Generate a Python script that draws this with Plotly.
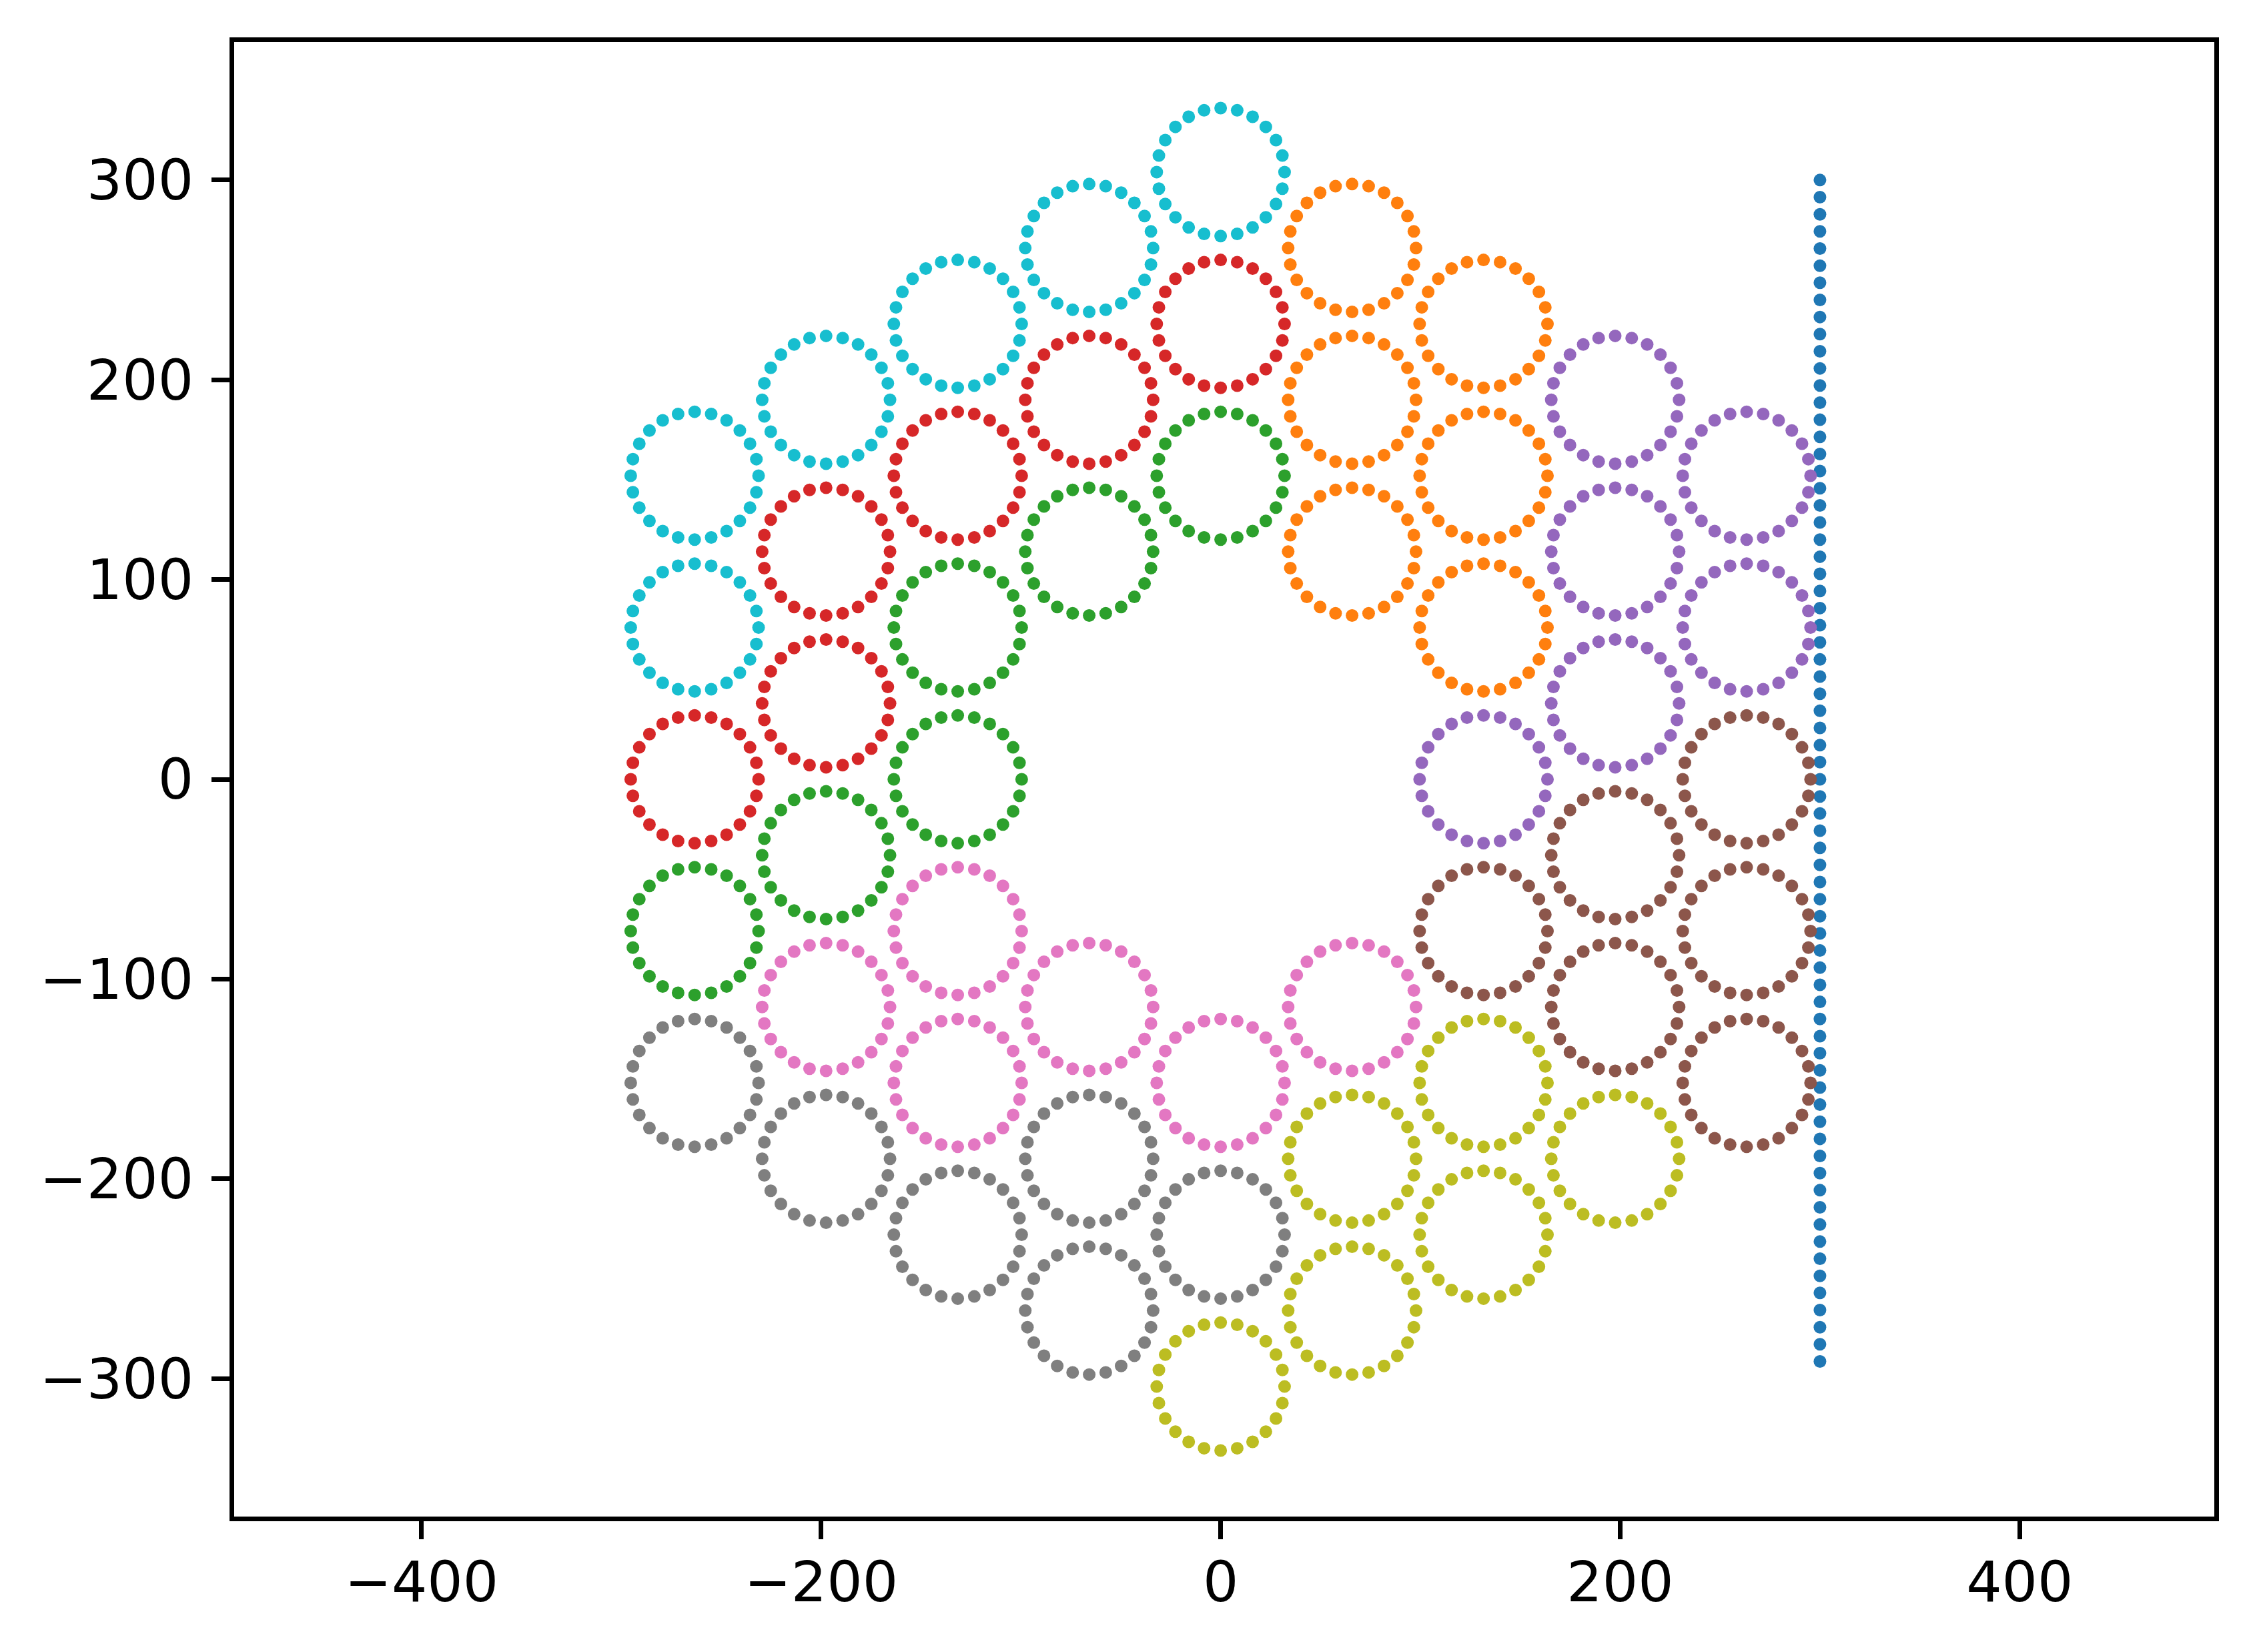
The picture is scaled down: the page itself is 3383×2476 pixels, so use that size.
import math
import plotly.graph_objects as go

# ---- data ----
line_x = 300
line_y = [300, 291.43, 282.86, 274.29, 265.71, 257.14, 248.57,
          240, 231.43, 222.86, 214.29, 205.71, 197.14, 188.57,
          180, 171.43, 162.86, 154.29, 145.71, 137.14, 128.57,
          120, 111.43, 102.86, 94.29, 85.71, 77.14, 68.57,
          60, 51.43, 42.86, 34.29, 25.71, 17.14, 8.57,
          0, -8.57, -17.14, -25.71, -34.29, -42.86, -51.43,
          -60, -68.57, -77.14, -85.71, -94.29, -102.86, -111.43,
          -120, -128.57, -137.14, -145.71, -154.29, -162.86, -171.43,
          -180, -188.57, -197.14, -205.71, -214.29, -222.86, -231.43,
          -240, -248.57, -257.14, -265.71, -274.29, -282.86, -291.43]

orange_cx = [65.8, 65.8, 65.8, 131.6, 131.6, 131.6]
orange_cy = [266, 190, 114, 228, 152, 76]
green_cx = [0, -65.8, -131.6, -131.6, -197.5, -263.3]
green_cy = [152, 114, 76, 0, -38, -76]
red_cx = [0, -65.8, -131.6, -197.5, -197.5, -263.3]
red_cy = [228, 190, 152, 114, 38, 0]
purple_cx = [131.6, 197.5, 197.5, 197.5, 263.3, 263.3]
purple_cy = [0, 190, 114, 38, 152, 76]
brown_cx = [131.6, 197.5, 197.5, 263.3, 263.3, 263.3]
brown_cy = [-76, -38, -114, 0, -76, -152]
pink_cx = [0, -65.8, 65.8, -131.6, -131.6, -197.5]
pink_cy = [-152, -114, -114, -76, -152, -114]
gray_cx = [0, -65.8, -65.8, -131.6, -197.5, -263.3]
gray_cy = [-228, -190, -266, -228, -190, -152]
olive_cx = [0, 65.8, 65.8, 131.6, 131.6, 197.5]
olive_cy = [-304, -190, -266, -152, -228, -190]
cyan_cx = [0, -65.8, -131.6, -197.5, -263.3, -263.3]
cyan_cy = [304, 266, 228, 190, 152, 76]

circle_radius = 32
dots_per_circle = 24

xtick_vals = [-400, -200, 0, 200, 400]
xtick_text = ["\u2212400", "\u2212200", "0", "200", "400"]
ytick_vals = [-300, -200, -100, 0, 100, 200, 300]
ytick_text = ["\u2212300", "\u2212200", "\u2212100", "0", "100", "200", "300"]

groups = [
    (orange_cx, orange_cy, "#ff7f0e"),
    (green_cx, green_cy, "#2ca02c"),
    (red_cx, red_cy, "#d62728"),
    (purple_cx, purple_cy, "#9467bd"),
    (brown_cx, brown_cy, "#8c564b"),
    (pink_cx, pink_cy, "#e377c2"),
    (gray_cx, gray_cy, "#7f7f7f"),
    (olive_cx, olive_cy, "#bcbd22"),
    (cyan_cx, cyan_cy, "#17becf"),
]

MS = 19

fig = go.Figure()
fig.add_trace(go.Scatter(x=[line_x] * len(line_y), y=line_y, mode="markers",
                         marker=dict(color="#1f77b4", size=MS), showlegend=False))

for cxs, cys, col in groups:
    xs, ys = [], []
    for cx, cy in zip(cxs, cys):
        for k in range(dots_per_circle):
            a = 2 * math.pi * k / dots_per_circle
            xs.append(cx + circle_radius * math.cos(a))
            ys.append(cy + circle_radius * math.sin(a))
    fig.add_trace(go.Scatter(x=xs, y=ys, mode="markers",
                             marker=dict(color=col, size=MS), showlegend=False))

axis_common = dict(showgrid=False, zeroline=False, showline=True, linecolor="black",
                   linewidth=7, mirror=True, ticks="outside", ticklen=27, tickwidth=7,
                   tickcolor="black", automargin=False,
                   tickfont=dict(family="DejaVu Sans", size=84, color="black"))

fig.update_layout(
    width=3383, height=2476, autosize=False,
    margin=dict(l=342.5, r=71.5, t=54.8, b=210.5, pad=0),
    paper_bgcolor="white", plot_bgcolor="white",
    xaxis=dict(range=[-493.8, 497.4], tickvals=xtick_vals, ticktext=xtick_text,
               ticklabelstandoff=-8, **axis_common),
    yaxis=dict(range=[-369.1, 369.1], tickvals=ytick_vals, ticktext=ytick_text,
               ticklabelstandoff=10, **axis_common),
)

fig.write_html("out.html")
